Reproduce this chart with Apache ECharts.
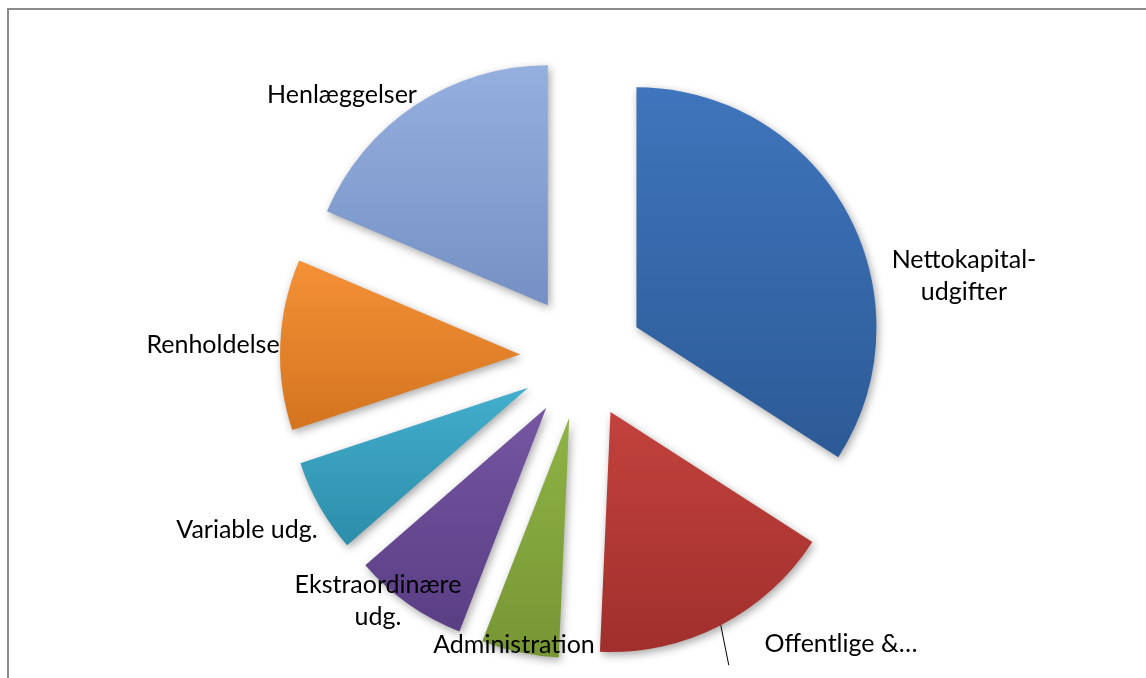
<!DOCTYPE html>
<html>
<head>
<meta charset="utf-8">
<script src="https://cdn.jsdelivr.net/npm/echarts@6/dist/echarts.min.js"></script>
<style>
  html, body { margin: 0; padding: 0; background: #ffffff; }
  #frame { position: absolute; left: 7px; top: 8px; width: 1300px; height: 800px; border: 2px solid #8a8a8a; box-sizing: border-box; }
  #chart { position: absolute; left: 0; top: 0; width: 1146px; height: 678px; }
</style>
</head>
<body>
<div id="frame"></div>
<div id="chart"></div>
<script>
// ---- data ----
const categories = ['Nettokapital-udgifter', 'Offentlige & …', 'Administration', 'Ekstraordinære udg.', 'Variable udg.', 'Renholdelse', 'Henlæggelser'];
const labelTexts = ['Nettokapital-\nudgifter', 'Offentlige &…', 'Administration', 'Ekstraordinære\nudg.', 'Variable udg.', 'Renholdelse', 'Henlæggelser'];
const values = [34.1, 16.6, 5.2, 7.7, 6.3, 11.5, 18.6];

// ---- styling / layout (kept apart from data) ----
const colorTop = ['#3F75BC', '#C3423D', '#8FB345', '#7556A2', '#43AECD', '#F49137', '#95B0DF'];
const colorBottom = ['#2C5A96', '#A02F2C', '#769634', '#5A3E84', '#2C8DAA', '#D4741F', '#7590C4'];
const labelX = [964, 841, 514, 378, 247, 213, 342];
const labelY = [276, 644, 645, 601, 530, 345, 95];
const pieCenter = [582, 357];
const pieRadius = 240;
const explode = 62;

const chart = echarts.init(document.getElementById('chart'), null, { renderer: 'canvas' });

const sliceData = categories.map((name, i) => ({
  name: name,
  value: values[i],
  selected: true,
  itemStyle: {
    color: {
      type: 'linear', x: 0, y: 0, x2: 0, y2: 1,
      colorStops: [
        { offset: 0, color: colorTop[i] },
        { offset: 1, color: colorBottom[i] }
      ]
    }
  }
}));

const labelData = categories.map((name, i) => ({
  name: name,
  value: values[i],
  label: { formatter: labelTexts[i] },
  labelLine: { show: i === 1 }
}));

chart.setOption({
  backgroundColor: 'transparent',
  animation: false,
  series: [{
    type: 'pie',
    center: pieCenter,
    radius: [0, pieRadius],
    startAngle: 90,
    clockwise: true,
    selectedMode: 'multiple',
    selectedOffset: explode,
    data: sliceData,
    itemStyle: {
      shadowBlur: 8,
      shadowColor: 'rgba(0,0,0,0.35)',
      shadowOffsetX: 2,
      shadowOffsetY: 3
    },
    emphasis: { disabled: true },
    label: { show: false },
    labelLine: { show: false }
  }, {
    // label carrier: same values, outer radius at the exploded arc
    type: 'pie',
    center: pieCenter,
    radius: [0, pieRadius + explode],
    startAngle: 90,
    clockwise: true,
    silent: true,
    avoidLabelOverlap: false,
    data: labelData,
    itemStyle: { color: 'rgba(0,0,0,0)' },
    emphasis: { disabled: true },
    label: {
      show: true,
      position: 'outside',
      color: '#000000',
      fontFamily: 'Lato',
      fontSize: 25,
      lineHeight: 32,
      align: 'center'
    },
    labelLine: {
      show: false,
      length: 40,
      length2: 0,
      smooth: false,
      lineStyle: { color: '#000000', width: 1 }
    },
    labelLayout: function (params) {
      const i = params.dataIndex;
      const out = { x: labelX[i], y: labelY[i], align: 'center', verticalAlign: 'middle', hideOverlap: false };
      if (params.labelLinePoints && i === 1) {
        const p0 = params.labelLinePoints[0];
        out.labelLinePoints = [[p0[0], p0[1]], [p0[0] + 8, p0[1] + 40]];
      }
      return out;
    }
  }]
});
</script>
</body>
</html>
